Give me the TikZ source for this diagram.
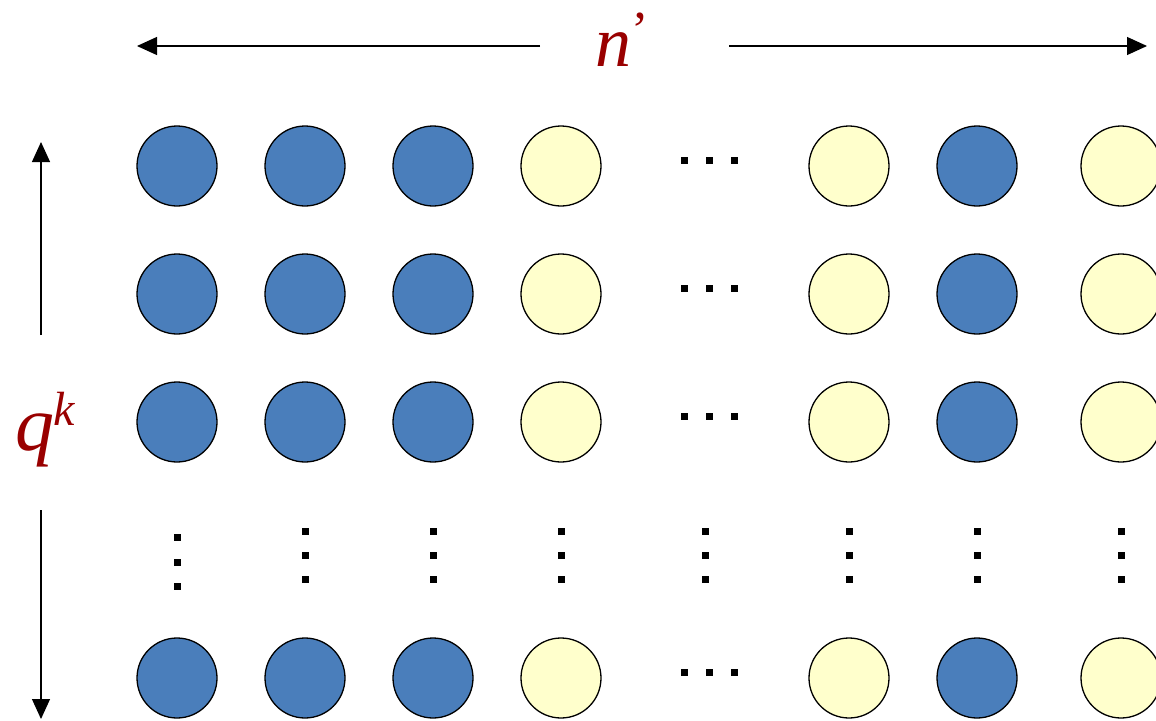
\documentclass[tikz,border=0pt]{standalone}
\usepackage{fontspec}
\setmainfont{Liberation Serif}
\usetikzlibrary{arrows.meta}
\definecolor{cblue}{HTML}{4A7EBB}
\definecolor{cyel}{HTML}{FFFFCC}
\definecolor{lblred}{HTML}{990000}
\begin{document}
\begin{tikzpicture}[x=1pt,y=-1pt,
  bl/.style={circle,draw=black,line width=1.3pt,fill=cblue,minimum size=80pt,inner sep=0pt},
  yl/.style={circle,draw=black,line width=1.3pt,fill=cyel,minimum size=80pt,inner sep=0pt},
  dt/.style={fill=black,minimum size=7pt,inner sep=0pt},
  arr/.style={line width=1.2pt,-{Triangle[length=20pt,width=18pt]}},
  lbl/.style={text=lblred,font=\itshape\fontsize{72}{72}\selectfont,inner sep=0pt}]
\useasboundingbox (0,0) rectangle (1156,720);
% circles
\foreach \r/\y in {1/166,2/294,3/422,5/678}{
  \node[bl] (c1\r) at (177,\y) {};
  \node[bl] (c2\r) at (305,\y) {};
  \node[bl] (c3\r) at (433,\y) {};
  \node[yl] (c4\r) at (561,\y) {};
  \node[yl] (c6\r) at (849,\y) {};
  \node[bl] (c7\r) at (977,\y) {};
  \node[yl] (c8\r) at (1121,\y) {};
  \node[dt] (h1\r) at (684,\y-6) {};
  \node[dt] (h2\r) at (709,\y-6) {};
  \node[dt] (h3\r) at (734,\y-6) {};
}
% vertical dots
\node[dt] (v11) at (177,537) {};
\node[dt] (v12) at (177,562) {};
\node[dt] (v13) at (177,586) {};
\foreach \i/\x in {2/305,3/433,4/561,5/705,6/849,7/977,8/1121}{
  \node[dt] (v\i1) at (\x,531) {};
  \node[dt] (v\i2) at (\x,555) {};
  \node[dt] (v\i3) at (\x,579) {};
}
% labels
\node[lbl] (nl) at (613,50) {n};
\node[text=lblred,font=\fontsize{52}{52}\selectfont,inner sep=0pt] (np) at (640,30) {’};
\node[lbl,font=\itshape\fontsize{78}{78}\selectfont] (ql) at (35,440) {q};
\node[text=lblred,font=\itshape\fontsize{48}{48}\selectfont,inner sep=0pt] (qk) at (64,409) {k};
% arrows
\coordinate (tl0) at (540,46); \coordinate (tl1) at (137,46);
\coordinate (tr0) at (729,46); \coordinate (tr1) at (1147,46);
\coordinate (lu0) at (41,335); \coordinate (lu1) at (41,142);
\coordinate (ld0) at (41,510); \coordinate (ld1) at (41,719);
\draw[arr] (tl0) -- (tl1);
\draw[arr] (tr0) -- (tr1);
\draw[arr] (lu0) -- (lu1);
\draw[arr] (ld0) -- (ld1);
\end{tikzpicture}
\end{document}
